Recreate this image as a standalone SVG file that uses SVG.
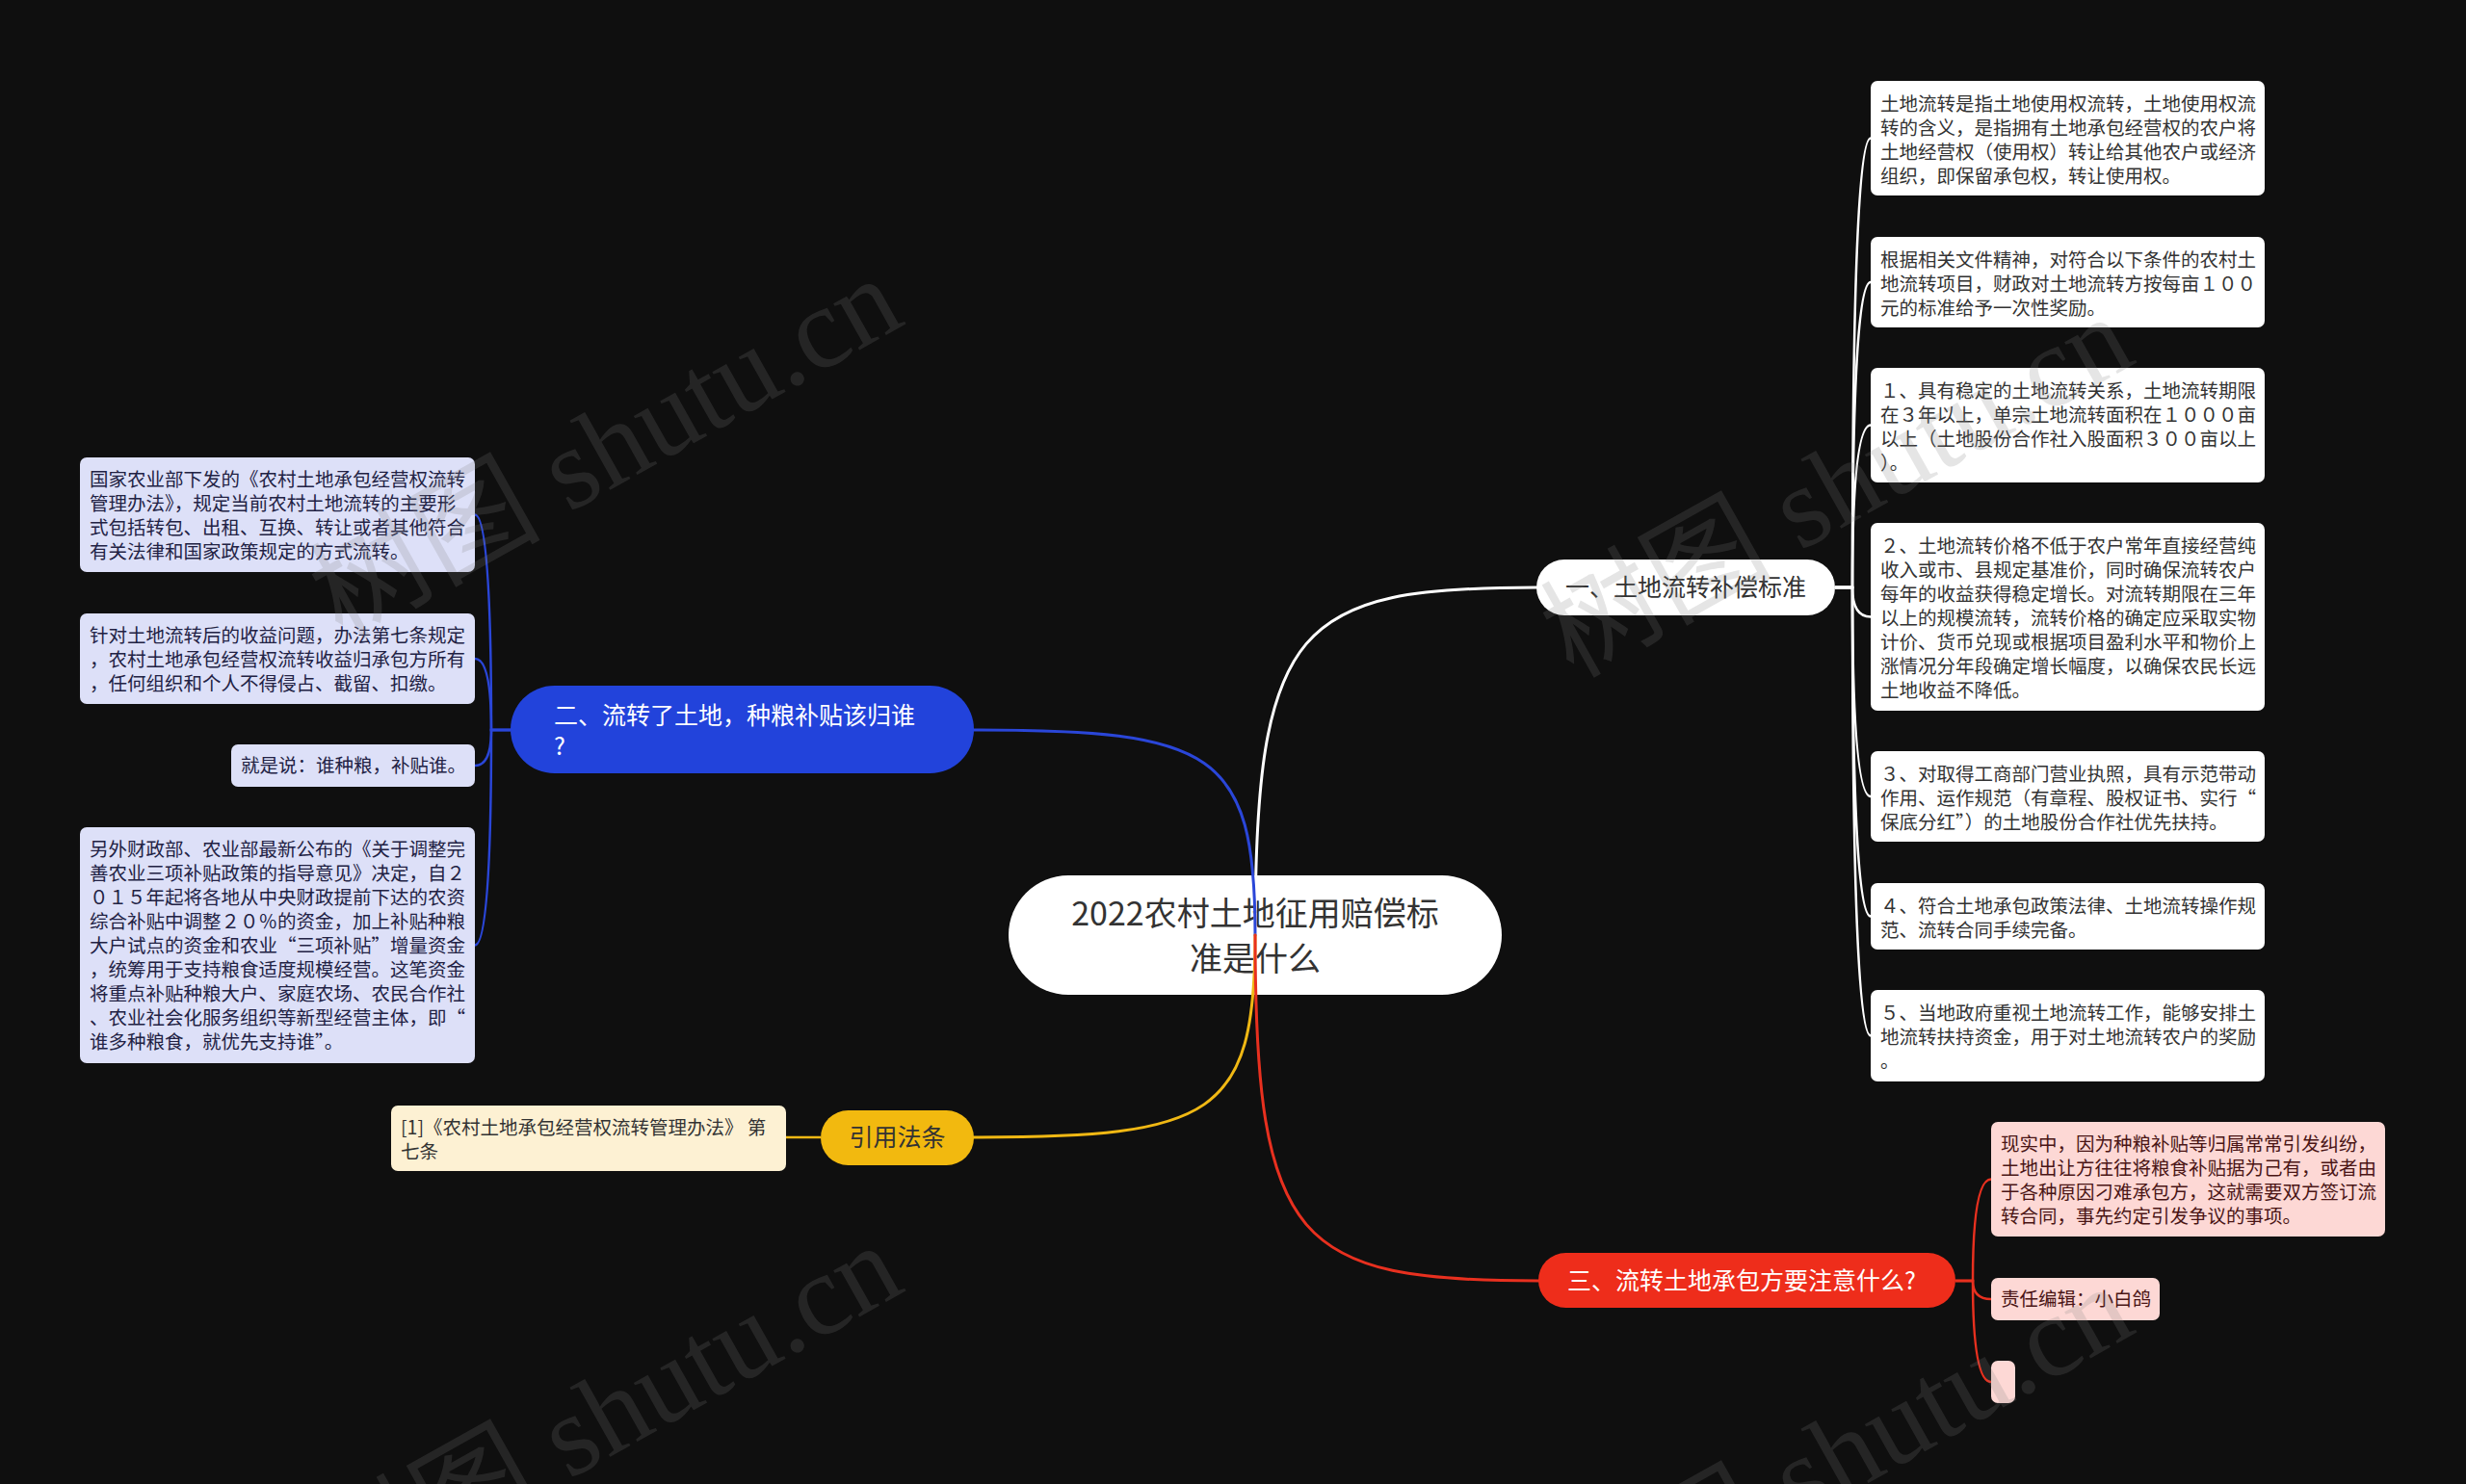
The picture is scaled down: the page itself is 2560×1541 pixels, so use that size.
<svg xmlns="http://www.w3.org/2000/svg" width="2560" height="1541" viewBox="0 0 2560 1541">
<style>
text{font-family:'Noto Sans CJK SC','Noto Sans',sans-serif;}
.t19{font-size:19.5px;fill:#333;}
.tb{font-size:19.5px;fill:#222244;}
.tr{font-size:19.5px;fill:#4a1515;}
.t25{font-size:25px;}
.wbox{fill:#ffffff;}
.bbox{fill:#dde0f8;}
.rbox{fill:#fdd8d5;}
.conn{fill:none;stroke-width:3;stroke-linecap:round;}
.br{fill:none;stroke-width:2.5;}
.wm{font-family:'Liberation Serif','Noto Sans CJK SC',serif;font-size:120px;fill:#808080;opacity:0.2;}
</style>
<rect x="0" y="0" width="2560" height="1541" fill="#0f0f0f"/>

<g id="root">
<rect x="1047" y="909" width="512" height="124" rx="62" fill="#ffffff"/>
<text x="1303" y="961" font-size="34" fill="#333" text-anchor="middle">2022农村土地征用赔偿标</text>
<text x="1303" y="1008" font-size="34" fill="#333" text-anchor="middle">准是什么</text>
</g>

<g id="connectors">
<path class="conn" stroke="#ffffff" d="M1303,971 C1303,646 1347,610 1595,610"/>
<path class="conn" stroke="#2a46d8" d="M1303,971 C1303,779 1259,758 1011,758"/>
<path class="conn" stroke="#f0b814" d="M1303,971 C1303,1160 1259,1181 1011,1181"/>
<path class="conn" stroke="#e8301f" d="M1303,971 C1303,1294 1347,1330 1597,1330"/>
<g stroke="#ffffff" class="br">
<path class="br" stroke="#ffffff" d="M1905,610 H1923 Q1923,143.5 1942,143.5"/>
<path class="br" stroke="#ffffff" d="M1905,610 H1923 Q1923,293 1942,293"/>
<path class="br" stroke="#ffffff" d="M1905,610 H1923 Q1923,441.5 1942,441.5"/>
<path class="br" stroke="#ffffff" d="M1905,610 H1923 Q1923,640.5 1942,640.5"/>
<path class="br" stroke="#ffffff" d="M1905,610 H1923 Q1923,827 1942,827"/>
<path class="br" stroke="#ffffff" d="M1905,610 H1923 Q1923,951.5 1942,951.5"/>
<path class="br" stroke="#ffffff" d="M1905,610 H1923 Q1923,1075.5 1942,1075.5"/>
</g>
<path class="br" stroke="#2a46d8" d="M530,758 H510 Q510,534.5 493,534.5"/>
<path class="br" stroke="#2a46d8" d="M530,758 H510 Q510,684 493,684"/>
<path class="br" stroke="#2a46d8" d="M530,758 H510 Q510,795 493,795"/>
<path class="br" stroke="#2a46d8" d="M530,758 H510 Q510,981.5 493,981.5"/>
<path class="br" stroke="#f0b814" d="M852,1181 H816"/>
<path class="br" stroke="#e8301f" d="M2030,1330 H2048 Q2048,1224.5 2067,1224.5"/>
<path class="br" stroke="#e8301f" d="M2030,1330 H2048 Q2048,1349 2067,1349"/>
<path class="br" stroke="#e8301f" d="M2030,1330 H2048 Q2048,1435 2067,1435"/>
</g>

<g id="n1">
<rect x="1595" y="581" width="310" height="58" rx="29" fill="#ffffff"/>
<text class="t25" x="1750" y="619" fill="#333" text-anchor="middle">一、土地流转补偿标准</text>
</g>
<g id="n1-c1">
<rect class="wbox" x="1942" y="84" width="409" height="119" rx="7"/>
<text class="t19"><tspan x="1952" y="115">土地流转是指土地使用权流转，土地使用权流</tspan><tspan x="1952" y="140">转的含义，是指拥有土地承包经营权的农户将</tspan><tspan x="1952" y="165">土地经营权（使用权）转让给其他农户或经济</tspan><tspan x="1952" y="190">组织，即保留承包权，转让使用权。</tspan></text>
</g>
<g id="n1-c2">
<rect class="wbox" x="1942" y="246" width="409" height="94" rx="7"/>
<text class="t19"><tspan x="1952" y="277">根据相关文件精神，对符合以下条件的农村土</tspan><tspan x="1952" y="302">地流转项目，财政对土地流转方按每亩１００</tspan><tspan x="1952" y="327">元的标准给予一次性奖励。</tspan></text>
</g>
<g id="n1-c3">
<rect class="wbox" x="1942" y="382" width="409" height="119" rx="7"/>
<text class="t19"><tspan x="1952" y="413">１、具有稳定的土地流转关系，土地流转期限</tspan><tspan x="1952" y="438">在３年以上，单宗土地流转面积在１０００亩</tspan><tspan x="1952" y="463">以上（土地股份合作社入股面积３００亩以上</tspan><tspan x="1952" y="488">）。</tspan></text>
</g>
<g id="n1-c4">
<rect class="wbox" x="1942" y="543" width="409" height="195" rx="7"/>
<text class="t19"><tspan x="1952" y="574">２、土地流转价格不低于农户常年直接经营纯</tspan><tspan x="1952" y="599">收入或市、县规定基准价，同时确保流转农户</tspan><tspan x="1952" y="624">每年的收益获得稳定增长。对流转期限在三年</tspan><tspan x="1952" y="649">以上的规模流转，流转价格的确定应采取实物</tspan><tspan x="1952" y="674">计价、货币兑现或根据项目盈利水平和物价上</tspan><tspan x="1952" y="699">涨情况分年段确定增长幅度，以确保农民长远</tspan><tspan x="1952" y="724">土地收益不降低。</tspan></text>
</g>
<g id="n1-c5">
<rect class="wbox" x="1942" y="780" width="409" height="94" rx="7"/>
<text class="t19"><tspan x="1952" y="811">３、对取得工商部门营业执照，具有示范带动</tspan><tspan x="1952" y="836">作用、运作规范（有章程、股权证书、实行“</tspan><tspan x="1952" y="861">保底分红”）的土地股份合作社优先扶持。</tspan></text>
</g>
<g id="n1-c6">
<rect class="wbox" x="1942" y="917" width="409" height="69" rx="7"/>
<text class="t19"><tspan x="1952" y="948">４、符合土地承包政策法律、土地流转操作规</tspan><tspan x="1952" y="973">范、流转合同手续完备。</tspan></text>
</g>
<g id="n1-c7">
<rect class="wbox" x="1942" y="1028" width="409" height="95" rx="7"/>
<text class="t19"><tspan x="1952" y="1059">５、当地政府重视土地流转工作，能够安排土</tspan><tspan x="1952" y="1084">地流转扶持资金，用于对土地流转农户的奖励</tspan><tspan x="1952" y="1109">。</tspan></text>
</g>

<g id="n2">
<rect x="530" y="712" width="481" height="91" rx="45.5" fill="#2243db"/>
<text class="t25" fill="#ffffff"><tspan x="575" y="752">二、流转了土地，种粮补贴该归谁</tspan><tspan x="575" y="784">?</tspan></text>
</g>
<g id="n2-c1">
<rect class="bbox" x="83" y="475" width="410" height="119" rx="7"/>
<text class="tb"><tspan x="93" y="505">国家农业部下发的《农村土地承包经营权流转</tspan><tspan x="93" y="530">管理办法》，规定当前农村土地流转的主要形</tspan><tspan x="93" y="555">式包括转包、出租、互换、转让或者其他符合</tspan><tspan x="93" y="580">有关法律和国家政策规定的方式流转。</tspan></text>
</g>
<g id="n2-c2">
<rect class="bbox" x="83" y="637" width="410" height="94" rx="7"/>
<text class="tb"><tspan x="93" y="667">针对土地流转后的收益问题，办法第七条规定</tspan><tspan x="93" y="692">，农村土地承包经营权流转收益归承包方所有</tspan><tspan x="93" y="717">，任何组织和个人不得侵占、截留、扣缴。</tspan></text>
</g>
<g id="n2-c3">
<rect class="bbox" x="240" y="773" width="253" height="44" rx="7"/>
<text class="tb" x="250" y="802">就是说：谁种粮，补贴谁。</text>
</g>
<g id="n2-c4">
<rect class="bbox" x="83" y="859" width="410" height="245" rx="7"/>
<text class="tb"><tspan x="93" y="889">另外财政部、农业部最新公布的《关于调整完</tspan><tspan x="93" y="914">善农业三项补贴政策的指导意见》决定，自２</tspan><tspan x="93" y="939">０１５年起将各地从中央财政提前下达的农资</tspan><tspan x="93" y="964">综合补贴中调整２０％的资金，加上补贴种粮</tspan><tspan x="93" y="989">大户试点的资金和农业“三项补贴”增量资金</tspan><tspan x="93" y="1014">，统筹用于支持粮食适度规模经营。这笔资金</tspan><tspan x="93" y="1039">将重点补贴种粮大户、家庭农场、农民合作社</tspan><tspan x="93" y="1064">、农业社会化服务组织等新型经营主体，即“</tspan><tspan x="93" y="1089">谁多种粮食，就优先支持谁”。</tspan></text>
</g>

<g id="n3">
<rect x="852" y="1153" width="159" height="57" rx="28.5" fill="#f2b90f"/>
<text class="t25" x="931.5" y="1190" fill="#333" text-anchor="middle">引用法条</text>
</g>
<g id="n3-c1">
<rect x="406" y="1148" width="410" height="68" rx="7" fill="#fdf1d3"/>
<text class="t19"><tspan x="416" y="1178">[1]《农村土地承包经营权流转管理办法》 第</tspan><tspan x="416" y="1203">七条</tspan></text>
</g>

<g id="n4">
<rect x="1597" y="1301" width="433" height="57" rx="28.5" fill="#ee2d1b"/>
<text class="t25" x="1627" y="1339" fill="#ffffff">三、流转土地承包方要注意什么?</text>
</g>
<g id="n4-c1">
<rect class="rbox" x="2067" y="1165" width="409" height="119" rx="7"/>
<text class="tr"><tspan x="2077" y="1195">现实中，因为种粮补贴等归属常常引发纠纷，</tspan><tspan x="2077" y="1220">土地出让方往往将粮食补贴据为己有，或者由</tspan><tspan x="2077" y="1245">于各种原因刁难承包方，这就需要双方签订流</tspan><tspan x="2077" y="1270">转合同，事先约定引发争议的事项。</tspan></text>
</g>
<g id="n4-c2">
<rect class="rbox" x="2067" y="1327" width="175" height="44" rx="7"/>
<text class="tr" x="2077" y="1356">责任编辑：小白鸽</text>
</g>
<g id="n4-c3">
<rect class="rbox" x="2067" y="1413" width="25" height="44" rx="7"/>
</g>

<g id="watermarks">
<text class="wm" transform="translate(355,665) rotate(-29.3)">树图 shutu.cn</text>
<text class="wm" transform="translate(1633,705) rotate(-29.3)">树图 shutu.cn</text>
<text class="wm" transform="translate(355,1669) rotate(-29.3)">树图 shutu.cn</text>
<text class="wm" transform="translate(1633,1712) rotate(-29.3)">树图 shutu.cn</text>
</g>
</svg>
